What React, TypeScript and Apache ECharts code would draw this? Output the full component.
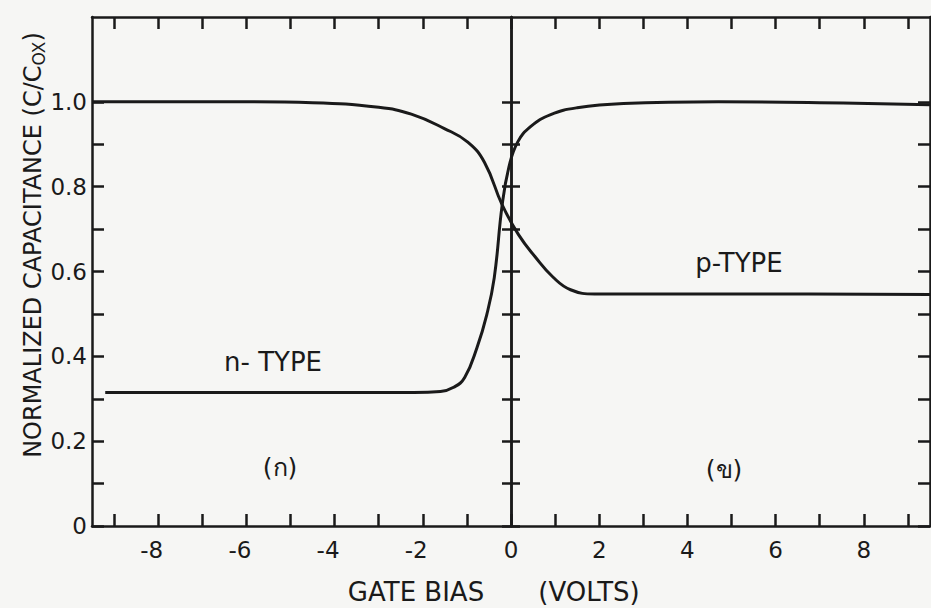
import React, { useEffect, useRef } from 'react';
import * as echarts from 'echarts';

// Axis ticks and labels
const xTickValues = [-9, -8, -7, -6, -5, -4, -3, -2, -1, 0, 1, 2, 3, 4, 5, 6, 7, 8, 9];
const xLabelValues = [-8, -6, -4, -2, 0, 2, 4, 6, 8];
const yTickValues = [0, 0.1, 0.2, 0.3, 0.4, 0.5, 0.6, 0.7, 0.8, 0.9, 1.0];
const yLabelValues = [0, 0.2, 0.4, 0.6, 0.8, 1.0];

// n-type curve (rises from inversion to accumulation)
const nTypeBias = [-9.2, -5, -2.2, -1.6, -1.3, -1.05, -0.77, -0.55, -0.38, -0.2, -0.05, 0.15, 0.45, 0.9, 1.5, 2.55, 4.7, 7, 9.5];
const nTypeCap = [0.315, 0.315, 0.315, 0.317, 0.327, 0.35, 0.421, 0.498, 0.585, 0.757, 0.845, 0.905, 0.942, 0.97, 0.986, 0.996, 1.0, 0.998, 0.993];

// p-type curve (falls from accumulation to inversion)
const pTypeBias = [-9.5, -6, -4.5, -3.0, -2.26, -1.51, -0.98, -0.6, -0.2, 0.17, 0.56, 0.95, 1.35, 1.9, 3, 6, 9.5];
const pTypeCap = [1.0, 1.0, 0.998, 0.987, 0.971, 0.937, 0.905, 0.857, 0.757, 0.687, 0.633, 0.587, 0.557, 0.547, 0.547, 0.547, 0.546];

const xMin = -9.5;
const xMax = 9.5;
const yMin = 0;
const yMax = 1.2;

const ink = '#1a1a1a';
const font = 'DejaVu Sans';

export default function App() {
  const ref = useRef<HTMLDivElement>(null);

  useEffect(() => {
    if (!ref.current) return;
    const chart = echarts.init(ref.current, undefined, { renderer: 'svg' });
    const lineStyle = { color: ink, width: 2.5 };

    const yAxisBase = (position: string, opts: any) => ({
      type: 'value',
      position,
      min: yMin,
      max: yMax,
      axisLine: { show: true, onZero: false, lineStyle },
      axisTick: { show: true, inside: true, length: 12, customValues: yTickValues, lineStyle },
      axisLabel: { show: false },
      splitLine: { show: false },
      ...opts,
    });

    const curveSeries = (name: string, xs: number[], ys: number[]) => ({
      type: 'line',
      name,
      xAxisIndex: 0,
      yAxisIndex: 0,
      data: xs.map((x, i) => [x, ys[i]]),
      smooth: 0.45,
      showSymbol: false,
      silent: true,
      lineStyle: { color: ink, width: 3 },
    });

    const textStyle = (text: string, size: number) => ({
      text,
      fontSize: size,
      fontFamily: font,
      fill: ink,
      align: 'center',
      verticalAlign: 'middle',
    });

    chart.setOption({
      animation: false,
      backgroundColor: '#f6f6f4',
      grid: { left: 92, right: 1, top: 17, bottom: 82, containLabel: false },
      xAxis: [
        {
          type: 'value',
          position: 'bottom',
          min: xMin,
          max: xMax,
          axisLine: { show: true, onZero: false, lineStyle },
          axisTick: { show: true, inside: true, length: 12, customValues: xTickValues, lineStyle },
          axisLabel: {
            show: true,
            customValues: xLabelValues,
            margin: 12,
            fontSize: 23,
            fontFamily: font,
            color: ink,
            formatter: (v: number) => (v < 0 ? `{neg|${v}}` : `${v}`),
            rich: {
              neg: { fontSize: 23, fontFamily: font, color: ink, padding: [0, 13, 0, 0] },
            },
          },
          splitLine: { show: false },
        },
        {
          type: 'value',
          position: 'top',
          min: xMin,
          max: xMax,
          axisLine: { show: true, onZero: false, lineStyle },
          axisTick: { show: true, inside: true, length: 12, customValues: xTickValues, lineStyle },
          axisLabel: { show: false },
          splitLine: { show: false },
        },
      ],
      yAxis: [
        yAxisBase('left', {
          axisLabel: {
            show: true,
            customValues: yLabelValues,
            margin: 5,
            fontSize: 23,
            fontFamily: font,
            color: ink,
            formatter: (v: number) => (v === 0 ? '0' : v.toFixed(1)),
          },
        }),
        yAxisBase('right', {}),
        yAxisBase('left', {
          axisLine: { show: true, onZero: true, onZeroAxisIndex: 0, lineStyle },
          axisTick: { show: true, inside: true, length: 9, customValues: yTickValues, lineStyle },
        }),
        yAxisBase('right', {
          axisLine: { show: true, onZero: true, onZeroAxisIndex: 0, lineStyle },
          axisTick: { show: true, inside: true, length: 9, customValues: yTickValues, lineStyle },
        }),
      ],
      series: [
        curveSeries('n-TYPE', nTypeBias, nTypeCap),
        curveSeries('p-TYPE', pTypeBias, pTypeCap),
      ],
      graphic: [
        { type: 'text', x: 273, y: 362, silent: true, style: textStyle('n- TYPE', 26) },
        { type: 'text', x: 739, y: 263, silent: true, style: textStyle('p-TYPE', 26) },
        { type: 'text', x: 280, y: 467, silent: true, style: textStyle('(ก)', 25) },
        { type: 'text', x: 724, y: 469, silent: true, style: textStyle('(ข)', 25) },
        { type: 'text', x: 416, y: 592, silent: true, style: textStyle('GATE BIAS', 26) },
        { type: 'text', x: 589, y: 592, silent: true, style: textStyle('(VOLTS)', 26) },
        {
          type: 'text', x: 33, y: 245, rotation: Math.PI / 2, silent: true,
          style: {
            ...textStyle('NORMALIZED CAPACITANCE (C/C{sub|OX})', 24),
            rich: {
              sub: { fontSize: 17, fontFamily: font, fill: ink, verticalAlign: 'bottom', padding: [12, 0, 0, 0] },
            },
          },
        },
      ],
    });

    return () => chart.dispose();
  }, []);

  return (
    <div
      ref={ref}
      style={{ position: 'absolute', left: 0, top: 0, width: 931, height: 608 }}
    />
  );
}
